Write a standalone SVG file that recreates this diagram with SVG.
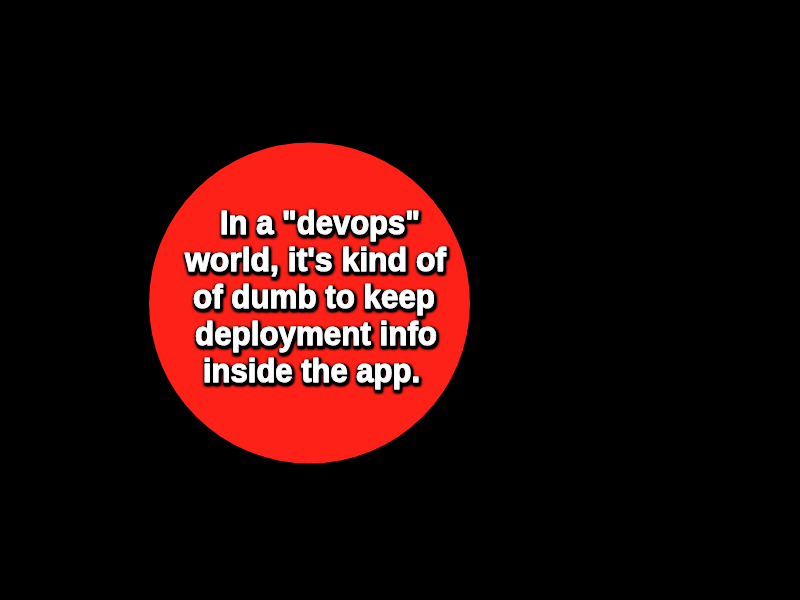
<svg xmlns="http://www.w3.org/2000/svg" width="800" height="600" viewBox="0 0 800 600">
<defs>
<style>
.t{font-family:"Liberation Sans",Arial,Helvetica,sans-serif;font-weight:bold;font-size:33px;fill:#ffffff;stroke:#ffffff;stroke-width:0.9px;stroke-linejoin:round;}
</style>
<filter id="sh" x="-10%" y="-30%" width="120%" height="160%">
<feMorphology in="SourceAlpha" operator="dilate" radius="1.2" result="m"/>
<feGaussianBlur in="m" stdDeviation="1.4" result="b"/>
<feOffset in="b" dx="1" dy="1.5" result="o"/>
<feComponentTransfer in="o" result="d"><feFuncA type="linear" slope="2.5"/></feComponentTransfer>
<feMerge><feMergeNode in="d"/><feMergeNode in="SourceGraphic"/></feMerge>
</filter>
</defs>
<rect width="800" height="600" fill="#000000"/>
<g id="node-circle">
<circle cx="309.5" cy="303" r="160.5" fill="#fe2118"/>
<g filter="url(#sh)">
<text class="t" x="220" y="234" textLength="200" lengthAdjust="spacingAndGlyphs">In a "devops"</text>
<text class="t" x="185" y="271" textLength="261" lengthAdjust="spacingAndGlyphs">world, it's kind of</text>
<text class="t" x="193" y="308" textLength="242" lengthAdjust="spacingAndGlyphs">of dumb to keep</text>
<text class="t" x="195" y="345" textLength="242" lengthAdjust="spacingAndGlyphs">deployment info</text>
<text class="t" x="203" y="382" textLength="217" lengthAdjust="spacingAndGlyphs">inside the app.</text>
</g>
</g>
<g id="connectors"/>
</svg>
